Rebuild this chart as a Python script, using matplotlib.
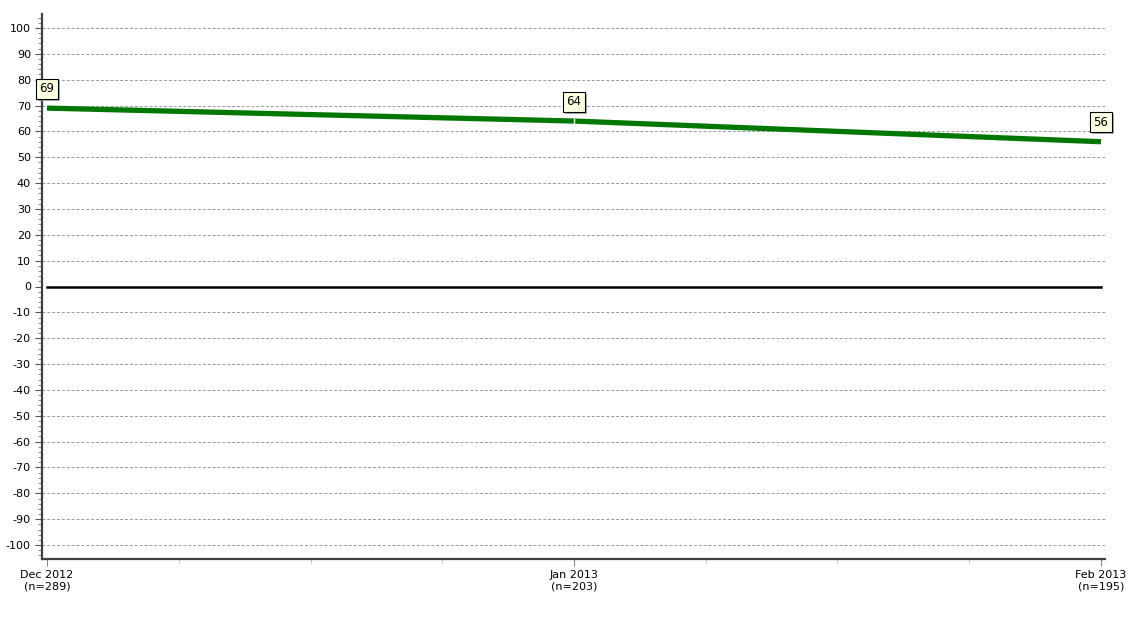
import numpy as np
import matplotlib.pyplot as plt
from matplotlib.ticker import MultipleLocator
import matplotlib.patheffects as pe

plt.rcParams['axes.unicode_minus'] = False

months = ['Dec 2012\n(n=289)', 'Jan 2013\n(n=203)', 'Feb 2013\n(n=195)']
values = [69, 64, 56]

x = np.arange(len(months))

fig = plt.figure(figsize=(11.42, 6.22), dpi=100)
ax = fig.add_axes([42 / 1142, 63 / 622, 1063 / 1142, 545 / 622])

# grid
for yv in range(-100, 101, 10):
    if yv != 0:
        ax.axhline(yv, color='#999999', lw=0.7, ls=(0, (3, 2)), zorder=1)

# zero line over the data range
ax.plot([x[0], x[-1]], [0, 0], color='black', lw=1.8, zorder=2)

# series
ax.plot(x, values, color='#007800', lw=3.8, solid_capstyle='butt', zorder=3)
ax.plot(x[1], values[1], marker='|', color='white', ms=4, mew=1, zorder=4)

# value labels
for xi, v in zip(x, values):
    ax.annotate(str(v), (xi, v), xytext=(0, 14), textcoords='offset points',
                ha='center', va='center', fontsize=8.5, zorder=6,
                bbox=dict(boxstyle='square,pad=0.3', fc='#ffffe1', ec='black', lw=0.8,
                          path_effects=[pe.withSimplePatchShadow(offset=(1.5, -1.5),
                                                                  shadow_rgbFace='#999999', alpha=0.8)]))

ax.set_xlim(-0.0095, 2.0076)
ax.set_ylim(-105.4, 105.4)

ax.set_xticks(x)
ax.set_xticklabels(months, fontsize=8)
ax.xaxis.set_minor_locator(MultipleLocator(0.25))
ax.yaxis.set_major_locator(MultipleLocator(10))
ax.yaxis.set_minor_locator(MultipleLocator(2))
ax.tick_params(axis='y', labelsize=8, length=5, width=0.8, color='#555555', pad=3)
ax.tick_params(axis='y', which='minor', length=3, width=0.6, color='#777777')
ax.tick_params(axis='x', length=5, width=0.8, color='#888888', pad=3)
ax.tick_params(axis='x', which='minor', length=3, width=0.6, color='#bbbbbb')

for s in ['top', 'right']:
    ax.spines[s].set_visible(False)
for s in ['left', 'bottom']:
    ax.spines[s].set_color('#404040')
    ax.spines[s].set_linewidth(1.6)

fig.savefig('out.png', dpi=100, facecolor='white')
